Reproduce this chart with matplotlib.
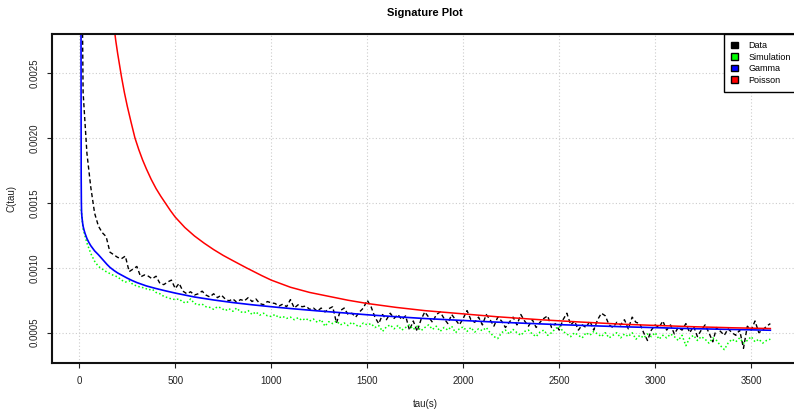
import matplotlib
matplotlib.use("Agg")
import matplotlib.pyplot as plt
from matplotlib.patches import Patch
import numpy as np

plt.rcParams['font.family'] = ['Liberation Sans', 'DejaVu Sans']

# sampling grid of the empirical / simulated signature (seconds)
tau = [10] + list(range(20, 3601, 20))

# C(tau) values, in units of 1e-6
data_c = [4000,
    2350, 1880, 1620, 1420, 1320, 1270, 1240, 1120, 1100, 1080,
    1070, 1090, 970, 990, 1010, 930, 945, 935, 915, 935,
    880, 870, 890, 905, 840, 880, 820, 800, 815, 790,
    800, 820, 790, 775, 800, 770, 790, 760, 745, 760,
    735, 755, 745, 770, 740, 760, 725, 715, 740, 730,
    725, 705, 720, 700, 755, 690, 715, 700, 705, 680,
    690, 665, 690, 660, 685, 700, 575, 670, 690, 640,
    650, 620, 660, 690, 750, 700, 620, 570, 640, 600,
    650, 610, 640, 600, 630, 520, 590, 510, 600, 660,
    620, 580, 640, 660, 610, 570, 640, 600, 560, 610,
    670, 600, 580, 620, 560, 640, 600, 550, 620, 590,
    540, 580, 620, 560, 640, 590, 550, 600, 540, 580,
    610, 630, 540, 570, 520, 600, 650, 560, 590, 520,
    560, 540, 590, 520, 600, 650, 630, 560, 540, 580,
    560, 600, 530, 620, 580, 570, 500, 440, 520, 560,
    540, 590, 520, 560, 490, 540, 520, 570, 500, 550,
    470, 520, 560, 500, 430, 540, 510, 480, 530, 500,
    480, 520, 380, 550, 520, 590, 500, 520, 550, 570]

sim_c = [1450,
    1300, 1190, 1110, 1050, 1010, 990, 970, 955, 940, 930,
    905, 890, 900, 870, 860, 850, 845, 830, 835, 810,
    800, 780, 770, 760, 755, 760, 735, 730, 760, 725,
    715, 720, 700, 695, 680, 700, 690, 670, 685, 665,
    690, 660, 655, 670, 640, 660, 635, 650, 630, 625,
    640, 615, 625, 610, 620, 600, 615, 595, 610, 590,
    605, 580, 600, 550, 585, 570, 590, 560, 575, 555,
    580, 560, 545, 575, 560, 570, 540, 555, 510, 545,
    560, 530, 555, 520, 540, 560, 525, 550, 515, 540,
    560, 525, 550, 510, 540, 520, 550, 500, 530, 545,
    510, 540, 505, 530, 515, 540, 500, 470, 455, 500,
    520, 490, 525, 500, 480, 510, 520, 490, 470, 505,
    520, 480, 500, 530, 550, 510, 490, 470, 500, 480,
    460, 500, 480, 510, 490, 470, 500, 460, 480, 500,
    460, 490, 470, 500, 450, 480, 460, 490, 470, 500,
    450, 480, 460, 490, 470, 440, 480, 400, 460, 480,
    440, 470, 450, 420, 460, 440, 400, 370, 420, 450,
    430, 460, 420, 440, 470, 430, 450, 420, 440, 450]

gamma_tau = [9, 10, 11, 12, 14, 17, 20, 25, 30, 40, 50, 60, 70, 80, 90, 100, 115,
             130, 145, 160, 180, 200, 225, 250, 275, 300, 350, 400, 450, 500, 600,
             700, 800, 900, 1000, 1100, 1250, 1400, 1500, 1650, 1800, 2000, 2150,
             2350, 2500, 2700, 2850, 3000, 3200, 3400, 3600]
gamma_c = [3000, 1700, 1500, 1430, 1390, 1350, 1320, 1290, 1265, 1225, 1195, 1170,
           1150, 1130, 1115, 1100, 1075, 1050, 1025, 1003, 980, 960, 940, 920, 902,
           886, 860, 840, 822, 805, 775, 752, 732, 715, 700, 686, 667, 650, 638,
           623, 609, 594, 583, 571, 562, 552, 545, 539, 531, 525, 519]

poisson_tau = [180, 190, 200, 210, 220, 235, 250, 270, 290, 310, 330, 350, 375, 400,
               425, 450, 475, 500, 550, 600, 650, 700, 750, 800, 870, 950, 1000,
               1100, 1200, 1300, 1400, 1500, 1650, 1800, 2000, 2175, 2400, 2600,
               2834, 3000, 3200, 3400, 3600]
poisson_c = [2870, 2750, 2650, 2560, 2470, 2350, 2245, 2120, 2000, 1910, 1830, 1760,
             1680, 1610, 1550, 1495, 1440, 1390, 1310, 1245, 1190, 1140, 1095, 1055,
             1000, 940, 905, 850, 810, 780, 750, 725, 695, 670, 645, 623, 600, 583,
             565, 556, 546, 538, 532]

scale = 1e-6

W, H = 794, 409
fig = plt.figure(figsize=(W / 100, H / 100), dpi=100)
ax = fig.add_axes([52 / W, (H - 362.7) / H, (798 - 52) / W, (362.7 - 34) / H])

ax.plot(tau, np.array(data_c) * scale, color='black', lw=1, linestyle=(0, (3, 2)))
ax.plot(tau, np.array(sim_c) * scale, color='#00ff00', lw=1.1, linestyle=(0, (1, 1.5)))
ax.plot(gamma_tau, np.array(gamma_c) * scale, color='#0000ff', lw=1.2)
ax.plot(poisson_tau, np.array(poisson_c) * scale, color='#ff0000', lw=1.1)

ax.set_xlim(-142, 3744)
ax.set_ylim(0.000269, 0.0028)
ax.set_xticks([0, 500, 1000, 1500, 2000, 2500, 3000, 3500])
ax.set_yticks([0.0005, 0.0010, 0.0015, 0.0020, 0.0025])
ax.set_yticklabels(['0.0005', '0.0010', '0.0015', '0.0020', '0.0025'],
                   rotation=90, va='center')
ax.tick_params(axis='both', direction='out', length=3.6, width=0.8,
               labelsize=7, colors='#222222')
ax.tick_params(axis='x', pad=6)
ax.tick_params(axis='y', pad=5)
ax.grid(True, color='#cccccc', linestyle=(0, (1, 2)), lw=0.8)

for s in ['left', 'bottom', 'top', 'right']:
    ax.spines[s].set_linewidth(1.5)
    ax.spines[s].set_color('#111111')

handles = [Patch(facecolor='black', edgecolor='black', label='Data'),
           Patch(facecolor='#00ff00', edgecolor='black', label='Simulation'),
           Patch(facecolor='#0000ff', edgecolor='black', label='Gamma'),
           Patch(facecolor='#ff0000', edgecolor='black', label='Poisson')]
leg = ax.legend(handles=handles, loc='upper right', borderaxespad=0, fontsize=6.5,
                handlelength=0.75, handleheight=0.75, handletextpad=1.2,
                labelspacing=0.28, borderpad=0.8, fancybox=False, framealpha=1)
leg.get_frame().set_edgecolor('black')
leg.get_frame().set_linewidth(1)

fig.text(425 / W, 1 - 12.5 / H, 'Signature Plot', ha='center', va='center',
         fontsize=8, fontweight='bold')
fig.text(425 / W, 1 - 404 / H, 'tau(s)', ha='center', va='center', fontsize=7,
         color='#222222')
fig.text(11.5 / W, 1 - 198 / H, 'C(tau)', ha='center', va='center', rotation=90,
         fontsize=7, color='#222222')

fig.savefig('out.png', dpi=100)
